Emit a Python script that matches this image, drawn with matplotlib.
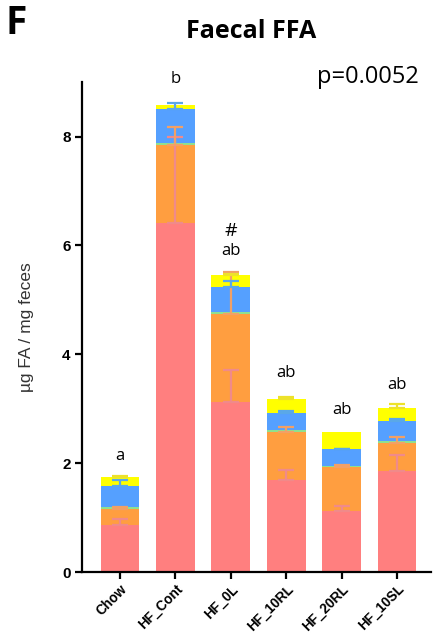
import matplotlib
matplotlib.use("Agg")
import matplotlib.pyplot as plt
import numpy as np

# Groups and stacked fatty-acid fractions (µg FA / mg feces)
groups = ["Chow", "HF_Cont", "HF_0L", "HF_10RL", "HF_20RL", "HF_10SL"]
red = [0.87, 6.41, 3.13, 1.70, 1.13, 1.86]
orange = [0.30, 1.44, 1.61, 0.88, 0.80, 0.52]
green = [0.03, 0.03, 0.03, 0.03, 0.03, 0.03]
blue = [0.39, 0.63, 0.47, 0.32, 0.30, 0.36]
yellow = [0.15, 0.07, 0.21, 0.25, 0.32, 0.24]

# Upper SEM for each fraction
red_err = [0.10, 1.59, 0.59, 0.17, 0.08, 0.30]
orange_err = [0.03, 0.33, 0.77, 0.09, 0.04, 0.11]
green_err = [0.0, 0.0, 0.0, 0.0, 0.0, 0.0]
blue_err = [0.11, 0.11, 0.10, 0.03, 0.01, 0.04]
yellow_err = [0.03, 0.0, 0.02, 0.04, 0.0, 0.08]

# Significance letters above each bar
letters = ["a", "b", "ab", "ab", "ab", "ab"]
letter_y = [2.13, 9.05, 5.89, 3.66, 2.98, 3.44]
hash_label = "#"
hash_group = 2
hash_y = 6.26
p_text = "p=0.0052"

series = [red, orange, green, blue, yellow]
errors = [red_err, orange_err, green_err, blue_err, yellow_err]
colors = ["#FF7F7F", "#FF9E40", "#8FE08F", "#55A0FF", "#FFFF00"]
err_colors = ["#F08A8A", "#F2A066", "#8FE08F", "#5AA8E8", "#EDE22A"]

fig = plt.figure(figsize=(4.33, 6.36), dpi=100)
ax = fig.add_axes([0.1887, 0.1002, 0.8063, 0.7708])

x = np.arange(len(groups))
width = 0.70
bottom = np.zeros(len(groups))
tops = []
for vals, col in zip(series, colors):
    vals = np.array(vals)
    ax.bar(x, vals, width, bottom=bottom, color=col, edgecolor="none", zorder=2)
    bottom = bottom + vals
    tops.append(bottom.copy())

for top, err, ecol in zip(tops, errors, err_colors):
    err = np.array(err)
    mask = err > 0
    if mask.any():
        ax.errorbar(x[mask], top[mask],
                    yerr=[np.zeros(mask.sum()), err[mask]],
                    fmt="none", ecolor=ecol, elinewidth=1.6,
                    capsize=6, capthick=1.6, zorder=3)

text_font = ["Open Sans", "DejaVu Sans"]
for xi, lab, ly in zip(x, letters, letter_y):
    ax.text(xi, ly, lab, ha="center", va="center", fontsize=12,
            family=text_font, clip_on=False)
ax.text(x[hash_group], hash_y, hash_label, ha="center", va="center",
        fontsize=14, family=text_font, clip_on=False)

ax.set_xlim(-0.69, 5.61)
ax.set_ylim(0, 9)
ax.set_yticks([0, 2, 4, 6, 8])
ax.set_yticklabels(["0", "2", "4", "6", "8"], fontsize=11,
                   fontweight="bold", family="Liberation Sans")
ax.set_xticks(x)
ax.set_xticklabels(groups, rotation=45, ha="right", rotation_mode="anchor",
                   fontsize=9.8, fontweight="bold", family="Liberation Sans")
ax.tick_params(axis="both", direction="out", length=5, width=1.6, pad=3)
ax.tick_params(axis="x", pad=2)
for side in ["top", "right"]:
    ax.spines[side].set_visible(False)
for side in ["left", "bottom"]:
    ax.spines[side].set_linewidth(1.6)

ax.set_ylabel("µg FA / mg feces", fontsize=12.5, family="Liberation Sans",
              color="#333333", labelpad=20)

fig.text(0.012, 0.963, "F", fontsize=28, fontweight="bold",
         family=text_font, va="center", ha="left")
fig.text(0.581, 0.950, "Faecal FFA", fontsize=18, fontweight="bold",
         family=text_font, va="center", ha="center")
fig.text(0.966, 0.879, p_text, fontsize=17, family=text_font,
         va="center", ha="right")

fig.savefig("out.png", dpi=100)
